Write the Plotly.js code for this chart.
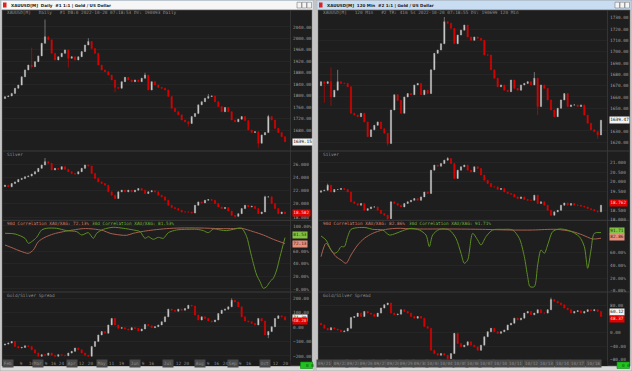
<!DOCTYPE html>
<html><head><meta charset="utf-8">
<script src="https://cdn.plot.ly/plotly-3.0.1.min.js"></script>
<style>html,body{margin:0;padding:0;background:#e6e6e6;overflow:hidden}#chart{width:632px;height:371px}</style>
</head><body><div id="chart"></div>
<script>
// ---------------- DATA ----------------
// Left window: XAUUSD Daily (Feb..Oct 2022)
const L_GOLD_OPEN0 = 1790;
const L_GOLD = [1796.6,1799,1808,1826,1837,1866,1890,1907,1901,1919,1939,1983,2006,1995,1948,1925,1936,1948,1960,1931,1936,1925,1936,1954,1977,1989,1965,1948,1907,1890,1884,1872,1855,1829,1826,1849,1864,1855,1849,1855,1849,1861,1872,1820,1849,1837,1829,1826,1820,1797,1756,1744,1733,1715,1709,1703,1727,1738,1768,1779,1791,1797,1799,1779,1762,1744,1759,1744,1715,1709,1718,1727,1713,1680,1671,1674,1634,1663,1671,1727,1715,1686,1671,1657,1639.15];
const L_GOLD_HIGHS = {8:1968, 12:2066, 25:2001, 42:1880, 61:1806, 79:1733};
const L_GOLD_LOWS = {8:1895, 19:1898, 33:1812, 55:1692, 76:1618};

const L_SILVER_OPEN0 = 22.6;
const L_SILVER = [22.8,22.56,23.06,23.3,23.67,23.82,24.08,24.18,24.48,24.84,25.34,25.85,26.35,26.1,25.1,25.34,25.2,25.6,25.2,24.84,24.58,24.48,24.84,25.34,25.85,25.7,24.58,23.82,23.3,23.06,22.8,21.8,21.29,20.78,21.8,22.05,21.8,22.05,21.8,22.05,22.3,22.05,21.54,21.8,21.95,21.8,21.29,21.04,20.53,19.77,19.42,19.27,19.01,18.76,18.76,18.76,18.6,19.77,20.28,20.13,20.53,20.63,20.53,20.03,19.52,19.27,19.42,18.91,18.25,18.1,18.5,19.27,19.77,19.52,19.62,19.27,18.5,18.76,21.04,21.04,20.03,19.27,18.5,18.76,18.5];
const L_SILVER_HIGHS = {12:26.9, 78:21.2};
const L_SILVER_LOWS = {69:17.9};

const L_CORR30_X = [0,3,6,7,8,9.5,11,12.5,15.5,18.5,21.5,23,25,26.5,27.5,29.5,32.5,35.5,38.5,40.5,42,43,44.5,46,47.5,49,51.5,54.5,57.5,59.5,61,62.5,64.5,66.5,68.5,71,72.5,73.5,74.5,75.5,76.5,77.5,78.5,79.5,80.5,81.5,82.5,84];
const L_CORR30 = [88.4,87.3,80.4,72.5,75.1,82,93.7,96.3,96.3,92.6,91,85.7,89.4,80.4,88.4,94.7,97.9,96.3,93.7,91,80.4,83,78.8,82,80.4,89.4,93.7,94.7,94.7,92.6,89.4,95.2,93.7,92.6,94.7,96.3,83,61.9,40.7,22.2,11.7,1.1,3.7,11.7,17,30.2,51.3,81.53];
const L_CORR90_X = [0,2.5,4.5,7,8.5,10,12,14.5,17.5,20.5,23.5,26.5,29.5,31.5,34.5,36.5,38.5,41.5,44.5,48.5,52.5,58.5,64.5,68.5,71,74.5,77.5,80.5,84];
const L_CORR90 = [69.8,64.6,60.3,56.6,61.9,75.1,82,87.3,91,93.7,95.8,95.2,92.6,88.4,85.7,85.2,88.4,91.5,93.7,95.8,96.8,96.8,95.8,95.8,96.3,91,85.7,78.8,72.13];

const L_SPREAD_OPEN0 = -125;
const L_SPREAD = [-118,-111,-100,-134,-145,-141,-130,-134,-157,-180,-202,-191,-195,-180,-195,-202,-191,-195,-198,-180,-168,-145,-157,-180,-195,-202,-134,-100,-55,-32,-43,14,59,14,-9,-5,-14,-20,-5,-9,-27,-14,18,9,-5,2,14,36,70,123,116,109,123,116,127,150,145,82,48,70,59,41,36,48,93,116,123,139,184,173,139,70,41,36,25,14,59,41,-55,-32,2,59,77,70,48];
const L_SPREAD_HIGHS = {68:198};
const L_SPREAD_LOWS = {79:-77};

const L_XTICK_POS = [1,5,8,10,12.5,14.5,17,20,23,25.5,29,32,35,39,41.5,44,49,52,54.5,58.5,61,63.5,66,68.5,70.5,73,78,81,84];
const L_XTICK_TEXT = ['Feb','9','16','Mar','9','16','24','Apr','12','20','May','11','19','Jun','9','16','Jul','12','20','Aug','9','16','24','Sep','9','16','Oct','12','20'];

// Right window: XAUUSD 120 Min
const R_GOLD_OPEN0 = 1670;
const R_GOLD = [1673.5,1672,1673.5,1660,1666,1673.5,1672,1672,1669,1645.6,1644,1642.6,1645.6,1638,1625,1631,1635,1638,1632,1628,1619,1648.5,1662,1657,1645.6,1660,1663,1662,1670.6,1672,1662,1666,1663,1684,1698.5,1701.5,1707,1726.5,1725,1720.6,1707,1714.7,1719,1723.5,1713,1710,1713,1711.8,1710,1697,1697,1684,1676.5,1669,1670.6,1666,1664.7,1675,1667.6,1666,1670.6,1672,1673.5,1670.6,1676.5,1651.5,1670.6,1667.6,1657.4,1648.5,1642.6,1650,1657.4,1663,1651.5,1653,1653,1651.5,1653,1644,1636.8,1631,1629.4,1626.5,1639.47];
const R_GOLD_HIGHS = {3:1686, 5:1684, 37:1731, 64:1682};
const R_GOLD_LOWS = {1:1655, 3:1652, 20:1617, 65:1644, 83:1623};

const R_SILVER_OPEN0 = 19.45;
const R_SILVER = [19.52,19.55,19.82,19.46,19.59,19.59,19.64,19.59,19.46,18.94,18.85,18.76,18.85,18.49,18.58,18.67,18.67,18.49,18.32,18.23,18.05,18.94,18.85,18.76,18.67,18.85,18.94,19.02,19.11,19.02,19.2,19.46,19.38,20.61,20.88,20.82,20.96,21.14,21.23,20.96,20.17,20.61,20.79,20.88,20.61,20.52,20.79,20.7,20.35,20.08,19.91,19.73,19.73,19.59,19.64,19.46,19.38,19.34,19.2,19.11,19.2,19.06,19.02,19.02,19.29,18.85,18.94,18.76,18.49,18.23,18.41,18.49,18.76,18.88,18.76,18.85,18.76,18.76,18.71,18.67,18.58,18.53,18.46,18.41,18.76];
const R_SILVER_HIGHS = {2:19.9, 38:21.3};
const R_SILVER_LOWS = {20:18.0, 69:18.2};

const R_CORR30_X = [0,1.5,3,4,5,6,7,8,9,11,13.5,15.5,18.5,20.5,22.5,24.5,27,29.5,31.5,32.5,33.5,35.5,38.5,40.5,42,43,44,45.5,47,48,49.5,51.5,54.5,57.5,59.5,61,62,62.7,64,65,66,67,68,69.5,71.5,74.5,77.5,79,80,81,82,84];
const R_CORR30 = [86.3,80,64.2,59,61.6,69.5,69.5,85.3,96.8,99.5,99.5,96.8,95.8,87.9,90.5,94.7,98.4,95.8,87.9,69.5,87.9,96.8,95.8,82.6,59,43.2,48.4,90.5,80,72.1,85.3,95.8,96.8,95.8,82.6,53.7,22.2,6.4,6.4,40.6,64.2,59,72.1,93.2,97.4,94.7,85.3,69.5,35.3,64.2,90.5,91.71];
const R_CORR90_X = [0,1.5,3,4.5,6,7.5,9,11,13,15.5,18.5,22.5,28.5,38.5,48.5,56.5,63.5,70.5,75.5,78.5,81.5,84];
const R_CORR90 = [53.7,74.8,64.2,53.7,48.4,43.2,56.3,72.1,82.6,90.5,95.8,98.4,97.4,97.4,96.8,95.8,95.8,96.8,93.2,87.9,81.6,82.86];

const R_SPREAD_OPEN0 = 28;
const R_SPREAD = [23,13,8,15,11,8,3,5,13,45,48,58,48,63,58,55,48,58,73,83,88,58,53,55,68,63,58,48,43,48,43,18,13,-52,-62,-67,-62,-67,-77,-62,-2,-32,-42,-37,-27,-37,-42,-52,-37,-12,3,13,3,-2,3,8,23,28,43,38,43,58,63,53,58,68,58,58,68,98,93,88,83,73,68,58,63,65,58,63,68,65,68,63,48];
const R_SPREAD_HIGHS = {69:104};
const R_SPREAD_LOWS = {38:-80};

const R_XTICK_POS = [1,5.7,9.7,13.7,17.7,21.7,25.7,29.7,33.7,37.7,41.7,45.7,49.7,53.7,58.3,63,67.7,72.3,77,81.8];
const R_XTICK_TEXT = ['09/21','09/22','09/23','09/26','09/27','09/28','09/29','09/30','10/03','10/04','10/05','10/06','10/07','10/10','10/11','10/12','10/13','10/14','10/17','10/18'];

// axis tick values / labels (values hidden behind last-value boxes are left out)
const L_GOLD_TICKS = [1680,1720,1760,1800,1840,1880,1920,1960,2000,2040];
const L_SILVER_TICKS = [18,20,22,24,26];
const L_CORR_TICKS = [0,20,40,60,100];
const L_CORR_TICK_TEXT = ['-0.00%','20.00%','40.00%','60.00%','100.00%'];
const L_SPREAD_TICKS = [-200,-100,0,100,200];
const R_GOLD_TICKS = [1620,1630,1650,1660,1670,1680,1690,1700,1710,1720,1730];
const R_SILVER_TICKS = [18,18.5,19.5,20,20.5,21];
const R_CORR_TICKS = [0,20,40,60];
const R_CORR_TICK_TEXT = ['-0.00%','20.00%','40.00%','60.00%'];
const R_SPREAD_TICKS = [-80,-40,0,80];

// header / label texts
const L_TITLE = 'XAUUSD[M]  Daily  #1 1:1 | Gold / US Dollar';
const R_TITLE = 'XAUUSD[M]  120 Min  #2 1:1 | Gold / US Dollar';
const L_HEADER = 'XAUUSD[M]   Daily   #1 DB:0 2022-10-20 07:18:53 DV: 190093 Daily';
const R_HEADER = 'XAUUSD[M]   120 Min   #2 TR: 41m 5s 2022-10-20 07:18:55 DV: 190699 120 Min';
const L_CORR_LABELS = ['90d Correlation XAU/XAG: 72.13%','30d Correlation XAU/XAG: 81.53%'];
const R_CORR_LABELS = ['90d Correlation XAU/XAG: 82.86%','30d Correlation XAU/XAG: 91.71%'];
const L_LAST = {gold:'1639.15', silver:'18.582', c30:'81.53', c90:'72.13', spreadHi:'71.30', spread:'48.20'};
const R_LAST = {gold:'1639.47', silver:'18.762', c30:'91.71', c90:'82.86', spreadHi:'60.12', spread:'48.37'};

// ---------------- DRAWING ----------------
const W = 632, H = 371;
const PX = x => x / W;
const PY = y => 1 - y / H;
const MONO = 'DejaVu Sans Mono, monospace';
const FS = 4.4;
const BG = '#1e1e1e';
const GRID = '#2a2a2a';
const TICKC = '#9c9c9c';
const UPLINE = '#a8a8a8', UPFILL = '#f2f2f2', DN = '#e00000';
const C30 = '#5c8d22', C90 = '#a8604f';
const C30T = '#74b83a', C90T = '#d97e69';

function candles(closes, open0, highs, lows, xa, ya) {
  const open = closes.map((c, i) => i === 0 ? open0 : closes[i - 1]);
  const high = closes.map((c, i) => Math.max(open[i], c, highs[i] !== undefined ? highs[i] : -Infinity));
  const low = closes.map((c, i) => Math.min(open[i], c, lows[i] !== undefined ? lows[i] : Infinity));
  return {type:'candlestick', x: closes.map((c, i) => i), open, high, low, close: closes,
    xaxis: xa, yaxis: ya, whiskerwidth: 0, hoverinfo: 'skip', showlegend: false,
    increasing: {line:{color:UPLINE, width:0.6}, fillcolor:UPFILL},
    decreasing: {line:{color:DN, width:0.6}, fillcolor:DN}};
}
function line(xs, ys, color, xa, ya) {
  return {type:'scatter', mode:'lines', x: xs, y: ys, xaxis: xa, yaxis: ya,
    line:{color, width:1, shape:'spline', smoothing:0.8}, hoverinfo:'skip', showlegend:false};
}

const traces = [
  candles(L_GOLD, L_GOLD_OPEN0, L_GOLD_HIGHS, L_GOLD_LOWS, 'x', 'y'),
  candles(L_SILVER, L_SILVER_OPEN0, L_SILVER_HIGHS, L_SILVER_LOWS, 'x', 'y2'),
  line(L_CORR90_X, L_CORR90, C90, 'x', 'y3'),
  line(L_CORR30_X, L_CORR30, C30, 'x', 'y3'),
  candles(L_SPREAD, L_SPREAD_OPEN0, L_SPREAD_HIGHS, L_SPREAD_LOWS, 'x', 'y4'),
  candles(R_GOLD, R_GOLD_OPEN0, R_GOLD_HIGHS, R_GOLD_LOWS, 'x2', 'y5'),
  candles(R_SILVER, R_SILVER_OPEN0, R_SILVER_HIGHS, R_SILVER_LOWS, 'x2', 'y6'),
  line(R_CORR90_X, R_CORR90, C90, 'x2', 'y7'),
  line(R_CORR30_X, R_CORR30, C30, 'x2', 'y7'),
  candles(R_SPREAD, R_SPREAD_OPEN0, R_SPREAD_HIGHS, R_SPREAD_LOWS, 'x2', 'y8'),
];

function yax(top, bot, range, ticks, ticktext, fmt, anchor) {
  const a = {domain:[PY(bot), PY(top)], range, side:'right', anchor,
    tickvals: ticks, showgrid:true, gridcolor:GRID, gridwidth:0.6, zeroline:false,
    showline:false, ticks:'', fixedrange:true,
    tickfont:{family:MONO, size:FS, color:TICKC}, ticklabelstandoff:2};
  if (ticktext) a.ticktext = ticktext; else a.tickformat = fmt;
  return a;
}
function xax(l, r, range, anchor) {
  return {domain:[PX(l), PX(r)], range, anchor, showticklabels:false, showgrid:false,
    zeroline:false, showline:false, ticks:'', fixedrange:true, rangeslider:{visible:false}};
}

const P = {main:[17,150], silver:[152,220], corr:[221,291], spread:[293,360]};
const layout = {
  width: W, height: H, margin:{l:0,r:0,t:0,b:0}, paper_bgcolor:'#e4e4e4', plot_bgcolor:'rgba(0,0,0,0)',
  showlegend:false, hovermode:false, dragmode:false, boxgap:0.5,
  xaxis: xax(3, 290, [-0.6, 85.5], 'y4'),
  xaxis2: xax(319, 607, [-0.6, 85.8], 'y8'),
  yaxis: yax(P.main[0], P.main[1], [1610.3, 2074.9], L_GOLD_TICKS, null, '.2f', 'x'),
  yaxis2: yax(P.silver[0], P.silver[1], [17.55, 27.81], L_SILVER_TICKS, null, '.3f', 'x'),
  yaxis3: yax(P.corr[0], P.corr[1], [-3.2, 107.9], L_CORR_TICKS, L_CORR_TICK_TEXT, null, 'x'),
  yaxis4: yax(P.spread[0], P.spread[1], [-227.8, 234.5], L_SPREAD_TICKS, null, '.2f', 'x'),
  yaxis5: yax(P.main[0], P.main[1], [1613.2, 1730.6], R_GOLD_TICKS, null, '.2f', 'x2'),
  yaxis6: yax(P.silver[0], P.silver[1], [17.98, 21.57], R_SILVER_TICKS, null, '.3f', 'x2'),
  yaxis7: yax(P.corr[0], P.corr[1], [-0.5, 110], R_CORR_TICKS, R_CORR_TICK_TEXT, null, 'x2'),
  yaxis8: yax(P.spread[0], P.spread[1], [-80.9, 117.6], R_SPREAD_TICKS, null, '.2f', 'x2'),
  shapes: [], annotations: []
};

const S = layout.shapes, A = layout.annotations;
function rect(x0, y0, x1, y1, fill, lineColor, layer) {
  S.push({type:'rect', xref:'paper', yref:'paper', x0:PX(x0), x1:PX(x1), y0:PY(y1), y1:PY(y0),
    fillcolor: fill, line:{color: lineColor || fill, width: lineColor ? 0.6 : 0}, layer: layer || 'below'});
}
function hline(x0, x1, y, color, w) {
  S.push({type:'line', xref:'paper', yref:'paper', x0:PX(x0), x1:PX(x1), y0:PY(y), y1:PY(y), line:{color, width:w||1}, layer:'below'});
}
function vline(x, y0, y1, color, w) {
  S.push({type:'line', xref:'paper', yref:'paper', x0:PX(x), x1:PX(x), y0:PY(y0), y1:PY(y1), line:{color, width:w||1}, layer:'below'});
}
function txt(x, y, text, color, opts) {
  A.push(Object.assign({xref:'paper', yref:'paper', x:PX(x), y:PY(y), text, showarrow:false,
    xanchor:'left', yanchor:'middle', font:{family:MONO, size:FS, color}}, opts || {}));
}

function windowChrome(x0, x1, title, titleBg, header, plotR) {
  rect(x0, 0, x1, 371, '#d9d9d9', '#9a9a9a');
  rect(x0 + 1, 0.5, x1 - 1, 10, titleBg, '#a8b8c8');
  rect(x0 + 2, 10, x1 - 2, 366, BG, '#6a6a6a');
  rect(x0 + 3, 2.5, x0 + 6.5, 7.5, '#d22', null);
  txt(x0 + 8.5, 5.3, '<b>' + title + '</b>', '#1a1a1a', {font:{family:'DejaVu Sans, sans-serif', size:4.1, color:'#1a1a1a'}});
  [[x1 - 17, x1 - 12.5], [x1 - 12, x1 - 7.5], [x1 - 7, x1 - 2.5]].forEach(b => rect(b[0], 2.2, b[1], 8, '#f4f4f4', '#7a7a7a'));
  txt(x0 + 4.5, 12.6, header, '#8e8e8e');
  [151, 220.3, 292].forEach(y => hline(x0 + 2, x1 - 2, y, '#3b3b3b', 1));
  vline(plotR, 10, 366, '#3a3a3a', 0.8);
  rect(x0 + 2.5, 360.5, plotR, 366, '#1a1a1a', null);
}
windowChrome(0, 314, L_TITLE, '#f6f6f6', L_HEADER, 290.5);
windowChrome(316, 632, R_TITLE, '#c8dcf2', R_HEADER, 607.5);

[4.5, 320.5].forEach(x0 => {
  txt(x0, 154, 'Silver', '#8e8e8e');
  txt(x0, 295.5, 'Gold/Silver Spread', '#8e8e8e');
});
txt(4.5, 223.5, L_CORR_LABELS[0], C90T);
txt(90, 223.5, L_CORR_LABELS[1], C30T);
txt(320.5, 223.5, R_CORR_LABELS[0], C90T);
txt(406.5, 223.5, R_CORR_LABELS[1], C30T);

function lastBox(xPix, yref, val, text, bg, fg) {
  A.push({xref:'paper', yref, x:PX(xPix), y:val, text, showarrow:false, xanchor:'left', yanchor:'middle',
    bgcolor:bg, borderpad:0.3, font:{family:MONO, size:FS, color:fg}});
}
lastBox(291.5, 'y', 1639.15, L_LAST.gold, '#f2f2f2', '#111');
lastBox(291.5, 'y2', 18.58, L_LAST.silver, '#e00000', '#f0d0d0');
lastBox(291.5, 'y3', 85, L_LAST.c30, '#84c244', '#1a3a0a');
lastBox(291.5, 'y3', 72, L_LAST.c90, '#e5907c', '#4a1a10');
lastBox(291.5, 'y4', 64, L_LAST.spreadHi, '#f2f2f2', '#111');
lastBox(291.5, 'y4', 42, L_LAST.spread, '#e00000', '#f0d0d0');
lastBox(608.5, 'y5', 1639.47, R_LAST.gold, '#f2f2f2', '#111');
lastBox(608.5, 'y6', 18.86, R_LAST.silver, '#e00000', '#f0d0d0');
lastBox(608.5, 'y7', 94, R_LAST.c30, '#84c244', '#1a3a0a');
lastBox(608.5, 'y7', 84, R_LAST.c90, '#e5907c', '#4a1a10');
lastBox(608.5, 'y8', 61, R_LAST.spreadHi, '#f2f2f2', '#111');
lastBox(608.5, 'y8', 42, R_LAST.spread, '#e00000', '#f0d0d0');

function xLabels(pos, text, xref, allBoxed) {
  pos.forEach((p, i) => {
    const t = text[i];
    const boxed = allBoxed || isNaN(Number(t));
    A.push({xref, yref:'paper', x:p, y:PY(363.3), text:t, showarrow:false, xanchor:'center', yanchor:'middle',
      bgcolor: boxed ? '#4a4a4a' : 'rgba(0,0,0,0)', borderpad:0.8,
      font:{family:MONO, size:FS, color:'#8a8a8a'}});
  });
}
xLabels(L_XTICK_POS, L_XTICK_TEXT, 'x', false);
xLabels(R_XTICK_POS, R_XTICK_TEXT, 'x2', true);

[[300.5, 312.5], [617, 629.5]].forEach(([a, b]) => {
  rect(a, 362, b, 368.5, '#1fc21f', '#0a8a0a', 'above');
  txt(a + 3, 365.3, '0 0', '#0a4a0a');
});
rect(314, 0, 316, 371, '#c4c4c4', null);

Plotly.newPlot('chart', traces, layout, {staticPlot:true, displayModeBar:false});
</script>
</body></html>
